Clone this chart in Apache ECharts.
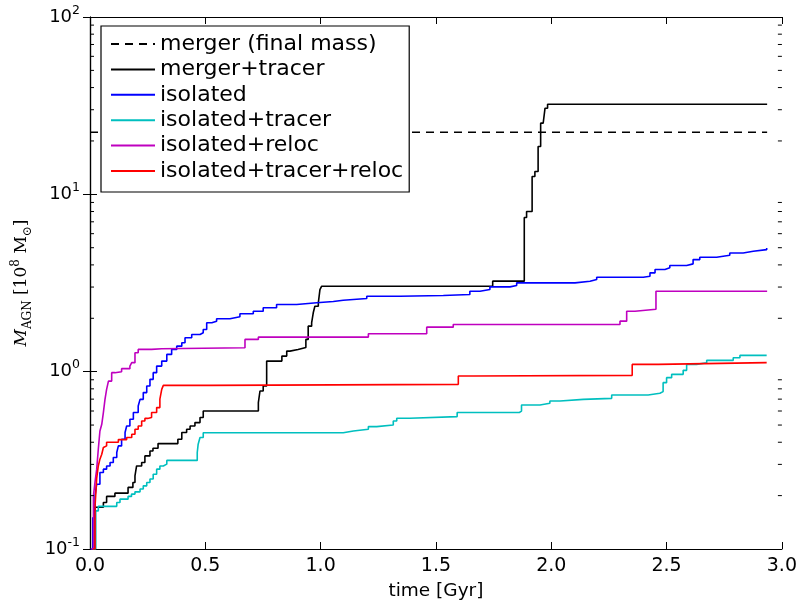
<!DOCTYPE html>
<html>
<head>
<meta charset="utf-8">
<script src="https://cdn.jsdelivr.net/npm/echarts@6/dist/echarts.min.js"></script>
<style>
  html, body { margin: 0; padding: 0; background: #fff; }
  #chart { width: 800px; height: 606px; }
</style>
</head>
<body>
<div id="chart"></div>
<script>
// Black-hole mass growth, M_AGN [1e8 Msun] against time [Gyr]; each point is [time, mass after the step].
const mergerFinal = [[0.0, 22.4], [2.936, 22.4]];

const mergerTracer = [
  [0.012, 0.10], [0.022, 0.172], [0.058, 0.183], [0.072, 0.198], [0.108, 0.2065],
  [0.165, 0.2225], [0.186, 0.237], [0.195, 0.2585], [0.202, 0.294], [0.224, 0.3075],
  [0.238, 0.335], [0.260, 0.357], [0.273, 0.370], [0.295, 0.393], [0.381, 0.416],
  [0.398, 0.4536], [0.419, 0.4735], [0.434, 0.494], [0.455, 0.516], [0.477, 0.551],
  [0.491, 0.600], [0.730, 0.669], [0.737, 0.778], [0.751, 0.830], [0.766, 1.147],
  [0.832, 1.224], [0.853, 1.306], [0.867, 1.335], [0.902, 1.370], [0.936, 1.520],
  [0.946, 1.806], [0.961, 1.887], [0.968, 2.148], [0.975, 2.340], [0.990, 2.445],
  [0.997, 2.905], [1.004, 3.03], [1.746, 3.24], [1.883, 7.4], [1.893, 8.0],
  [1.917, 12.6], [1.929, 13.45], [1.943, 18.6], [1.954, 25.2], [1.965, 25.7],
  [1.973, 30.6], [1.984, 32.2], [2.936, 32.2]
];

const isolated = [
  [0.002, 0.10], [0.012, 0.15], [0.022, 0.20], [0.029, 0.232], [0.043, 0.270],
  [0.058, 0.282], [0.072, 0.294], [0.087, 0.3075], [0.101, 0.328], [0.116, 0.350],
  [0.123, 0.3815], [0.137, 0.416], [0.152, 0.4536], [0.159, 0.494], [0.173, 0.539],
  [0.188, 0.588], [0.209, 0.640], [0.217, 0.698], [0.231, 0.762], [0.246, 0.830],
  [0.260, 0.905], [0.274, 0.987], [0.289, 1.075], [0.311, 1.147], [0.333, 1.251],
  [0.354, 1.335], [0.376, 1.393], [0.398, 1.456], [0.412, 1.554], [0.441, 1.621],
  [0.477, 1.658], [0.491, 1.730], [0.506, 1.887], [0.528, 1.927], [0.549, 1.988],
  [0.607, 2.040], [0.650, 2.121], [0.708, 2.193], [0.751, 2.292], [0.809, 2.392],
  [0.896, 2.445], [0.983, 2.487], [1.055, 2.529], [1.098, 2.586], [1.200, 2.664],
  [1.344, 2.688], [1.532, 2.723], [1.647, 2.842], [1.691, 2.905], [1.734, 3.008],
  [1.821, 3.059], [1.850, 3.168], [2.103, 3.234], [2.168, 3.306], [2.197, 3.407],
  [2.399, 3.451], [2.428, 3.607], [2.450, 3.765], [2.493, 3.849], [2.514, 3.966],
  [2.587, 4.054], [2.615, 4.285], [2.644, 4.414], [2.717, 4.530], [2.774, 4.673],
  [2.832, 4.771], [2.876, 4.877], [2.934, 4.986]
];

const isolatedTracer = [
  [0.012, 0.10], [0.025, 0.164], [0.036, 0.174], [0.116, 0.183], [0.130, 0.191],
  [0.165, 0.198], [0.180, 0.204], [0.195, 0.210], [0.217, 0.218], [0.231, 0.227],
  [0.246, 0.237], [0.260, 0.248], [0.274, 0.264], [0.289, 0.282], [0.303, 0.294],
  [0.318, 0.301], [0.333, 0.316], [0.465, 0.350], [0.469, 0.390], [0.477, 0.425],
  [0.491, 0.452], [1.098, 0.463], [1.142, 0.4735], [1.207, 0.490], [1.243, 0.500],
  [1.315, 0.527], [1.330, 0.546], [1.387, 0.558], [1.592, 0.588], [1.861, 0.600],
  [1.871, 0.649], [1.951, 0.663], [1.994, 0.683], [2.038, 0.698], [2.139, 0.707],
  [2.262, 0.738], [2.420, 0.755], [2.471, 0.772], [2.485, 0.867], [2.500, 0.925],
  [2.522, 0.966], [2.572, 1.017], [2.587, 1.099], [2.630, 1.124], [2.674, 1.158],
  [2.789, 1.199], [2.818, 1.235], [2.934, 1.235]
];

const isolatedReloc = [
  [0.005, 0.10], [0.015, 0.20], [0.022, 0.24], [0.029, 0.282], [0.036, 0.365],
  [0.043, 0.463], [0.051, 0.505], [0.058, 0.588], [0.065, 0.698], [0.072, 0.795],
  [0.080, 0.885], [0.094, 0.987], [0.108, 1.000], [0.137, 1.040], [0.173, 1.075],
  [0.181, 1.124], [0.195, 1.279], [0.209, 1.335], [0.267, 1.347], [0.311, 1.365],
  [0.672, 1.520], [0.730, 1.566], [1.207, 1.636], [1.460, 1.782], [1.575, 1.846],
  [2.298, 1.927], [2.327, 2.193], [2.363, 2.250], [2.454, 2.842], [2.936, 2.842]
];

const isolatedTracerReloc = [
  [0.012, 0.10], [0.022, 0.175], [0.029, 0.250], [0.036, 0.294], [0.043, 0.321],
  [0.051, 0.342], [0.058, 0.3735], [0.065, 0.3815], [0.072, 0.400], [0.123, 0.414],
  [0.159, 0.425], [0.181, 0.4436], [0.195, 0.4735], [0.209, 0.494], [0.224, 0.527],
  [0.238, 0.545], [0.250, 0.551], [0.267, 0.588], [0.289, 0.627], [0.303, 0.700],
  [0.311, 0.795], [0.318, 0.837], [0.515, 0.848], [1.597, 0.9445], [1.662, 0.953],
  [2.351, 1.099], [2.464, 1.124], [2.934, 1.124]
];

// Axis ticks and labels
const xTicks = [0.0, 0.5, 1.0, 1.5, 2.0, 2.5, 3.0];
const yDecades = [0.1, 1, 10, 100];
const yMinorTicks = [0.2, 0.3, 0.4, 0.5, 0.6, 0.7, 0.8, 0.9,
                     2, 3, 4, 5, 6, 7, 8, 9,
                     20, 30, 40, 50, 60, 70, 80, 90];

const names = ['merger (final mass)', 'merger+tracer', 'isolated',
               'isolated+tracer', 'isolated+reloc', 'isolated+tracer+reloc'];
const colors = ['#000000', '#000000', '#0000ff', '#00bfbf', '#bf00bf', '#ff0000'];
const seriesData = [mergerFinal, mergerTracer, isolated, isolatedTracer,
                    isolatedReloc, isolatedTracerReloc];

const sans = 'DejaVu Sans';
const serif = 'DejaVu Serif';

const chart = echarts.init(document.getElementById('chart'), null, { renderer: 'canvas' });

const lineSeries = names.map((name, i) => ({
  name: name,
  type: 'line',
  data: seriesData[i],
  step: i === 0 ? false : 'end',
  symbol: 'none',
  showSymbol: false,
  animation: false,
  z: 2,
  lineStyle: {
    color: colors[i],
    width: 1.6,
    type: i === 0 ? [8, 6] : 'solid'
  },
  itemStyle: { color: colors[i] },
  emphasis: { disabled: true }
}));

// Minor log ticks on the left and right frame, placed through the y scale
const minorTickSeries = {
  type: 'custom',
  silent: true,
  animation: false,
  z: 3,
  clip: false,
  data: yMinorTicks.map(v => [0, v]),
  renderItem: function (params, api) {
    const y = api.coord([0, api.value(1)])[1];
    const cs = params.coordSys;
    const len = 4;
    return {
      type: 'group',
      children: [
        { type: 'line', shape: { x1: cs.x, y1: y, x2: cs.x + len, y2: y },
          style: { stroke: '#000', lineWidth: 1 } },
        { type: 'line', shape: { x1: cs.x + cs.width - len, y1: y, x2: cs.x + cs.width, y2: y },
          style: { stroke: '#000', lineWidth: 1 } }
      ]
    };
  }
};

const xAxisBase = {
  type: 'value',
  min: xTicks[0],
  max: xTicks[xTicks.length - 1],
  interval: 0.5,
  splitLine: { show: false },
  axisLine: { show: true, onZero: false, lineStyle: { color: '#000', width: 1.2 } },
  axisTick: { show: true, inside: true, length: 7, lineStyle: { color: '#000', width: 1 } }
};

const yAxisBase = {
  type: 'log',
  logBase: 10,
  min: yDecades[0],
  max: yDecades[yDecades.length - 1],
  splitLine: { show: false },
  axisLine: { show: true, lineStyle: { color: '#000', width: 1.2 } },
  axisTick: { show: true, inside: true, length: 7, lineStyle: { color: '#000', width: 1 } }
};

chart.setOption({
  animation: false,
  backgroundColor: '#ffffff',
  grid: { left: 90, right: 18, top: 17, bottom: 56, containLabel: false },
  xAxis: [
    Object.assign({}, xAxisBase, {
      position: 'bottom',
      name: 'time [Gyr]',
      nameLocation: 'middle',
      nameGap: 33,
      nameTextStyle: { fontFamily: sans, fontSize: 18.5, color: '#000' },
      axisLabel: {
        show: true, margin: 8, color: '#000', fontFamily: sans, fontSize: 19,
        formatter: v => v.toFixed(1)
      }
    }),
    Object.assign({}, xAxisBase, { position: 'top', axisLabel: { show: false } })
  ],
  yAxis: [
    Object.assign({}, yAxisBase, {
      position: 'left',
      name: '{i|M}{sub|AGN}{n| [10}{sup|8}{n| M}{sub|⊙}{n|]}',
      nameLocation: 'middle',
      nameGap: 56,
      nameTextStyle: {
        color: '#000',
        rich: {
          i: { fontFamily: serif, fontStyle: 'italic', fontSize: 17, lineHeight: 24, color: '#000' },
          n: { fontFamily: serif, fontSize: 17, lineHeight: 24, color: '#000' },
          sub: { fontFamily: serif, fontSize: 12, lineHeight: 13, verticalAlign: 'bottom', color: '#000' },
          sup: { fontFamily: serif, fontSize: 12, lineHeight: 13, verticalAlign: 'top', color: '#000' }
        }
      },
      axisLabel: {
        show: true, margin: 10, color: '#000',
        formatter: v => '{b|10}{s|' + Math.round(Math.log10(v)) + '}',
        rich: {
          b: { fontFamily: sans, fontSize: 18, lineHeight: 26, color: '#000' },
          s: { fontFamily: sans, fontSize: 12.5, lineHeight: 13, verticalAlign: 'top', color: '#000' }
        }
      }
    }),
    Object.assign({}, yAxisBase, { position: 'right', axisLabel: { show: false } })
  ],
  legend: {
    show: true,
    data: names,
    orient: 'vertical',
    left: 101,
    top: 26,
    padding: [7, 6, 10, 9],
    itemWidth: 44,
    itemHeight: 14,
    itemGap: 3.4,
    backgroundColor: '#ffffff',
    borderColor: '#000000',
    borderWidth: 1.2,
    borderRadius: 0,
    selectedMode: false,
    itemStyle: { opacity: 0 },
    textStyle: { fontFamily: sans, fontSize: 22, lineHeight: 22, color: '#000' }
  },
  series: lineSeries.concat([minorTickSeries])
});
</script>
</body>
</html>
